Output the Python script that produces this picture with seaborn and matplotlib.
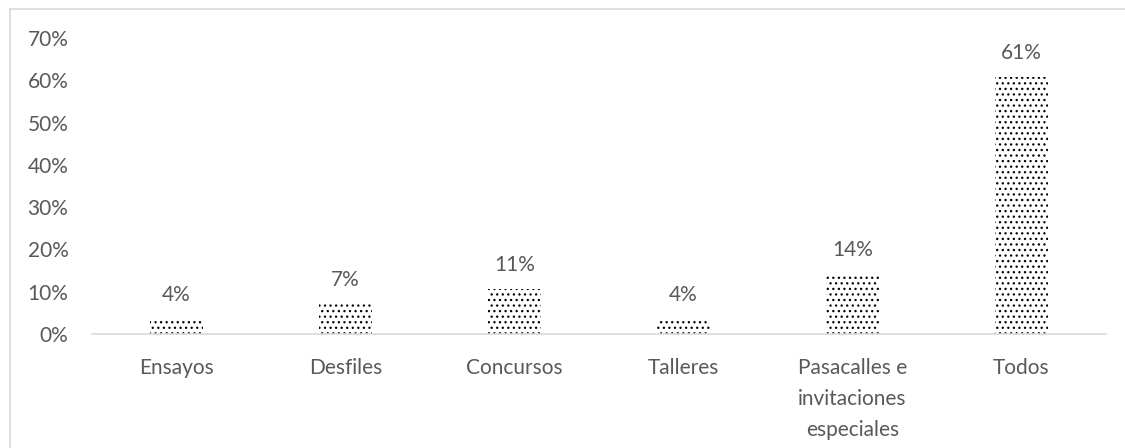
import matplotlib
matplotlib.use("Agg")
import matplotlib.pyplot as plt
import seaborn as sns
import pandas as pd
from matplotlib.patches import Rectangle
from matplotlib.ticker import PercentFormatter

categories = ["Ensayos", "Desfiles", "Concursos", "Talleres",
              "Pasacalles e\ninvitaciones\nespeciales", "Todos"]
values = [0.0357, 0.0714, 0.1071, 0.0357, 0.1429, 0.6071]

sns.set_theme(style="white")
plt.rcParams['font.family'] = ['Lato', 'DejaVu Sans']
plt.rcParams['hatch.color'] = 'black'
plt.rcParams['hatch.linewidth'] = 0.9

df = pd.DataFrame({"cat": categories, "val": values})

fig = plt.figure(figsize=(11.25, 4.48), dpi=100)
ax = fig.add_axes([92/1125, 1-334/448, (1106-92)/1125, (334-38)/448])

sns.barplot(data=df, x="cat", y="val", ax=ax, color="white", width=0.31,
            edgecolor="none", linewidth=0, saturation=1)
for p in ax.patches:
    p.set_hatch("...")
    p.set_edgecolor("black")
    p.set_linewidth(0)

ax.set_ylim(0, 0.70)
ax.set_yticks([i/10 for i in range(8)])
ax.yaxis.set_major_formatter(PercentFormatter(1.0, decimals=0))
ax.set_xlabel("")
ax.set_ylabel("")
for s in ["top", "right", "left"]:
    ax.spines[s].set_visible(False)
ax.spines["bottom"].set_color("#d9d9d9")
ax.spines["bottom"].set_linewidth(1.2)
ax.tick_params(axis="both", length=0, colors="#595959", labelsize=15)
ax.tick_params(axis="y", pad=17)
ax.tick_params(axis="x", pad=17)
for lbl in ax.get_xticklabels():
    lbl.set_linespacing(1.7)
ax.grid(False)

for i, v in enumerate(values):
    ax.annotate(f"{round(v*100):d}%", (i, v), xytext=(0, 10), textcoords="offset points",
                ha="center", va="bottom", fontsize=15, color="#595959")

fig.patches.append(Rectangle((10/1125, -0.1), 1.2, 1-9/448+0.1, transform=fig.transFigure,
                             fill=False, edgecolor="#d9d9d9", linewidth=1.2, figure=fig))

fig.savefig("out.png", dpi=100)
